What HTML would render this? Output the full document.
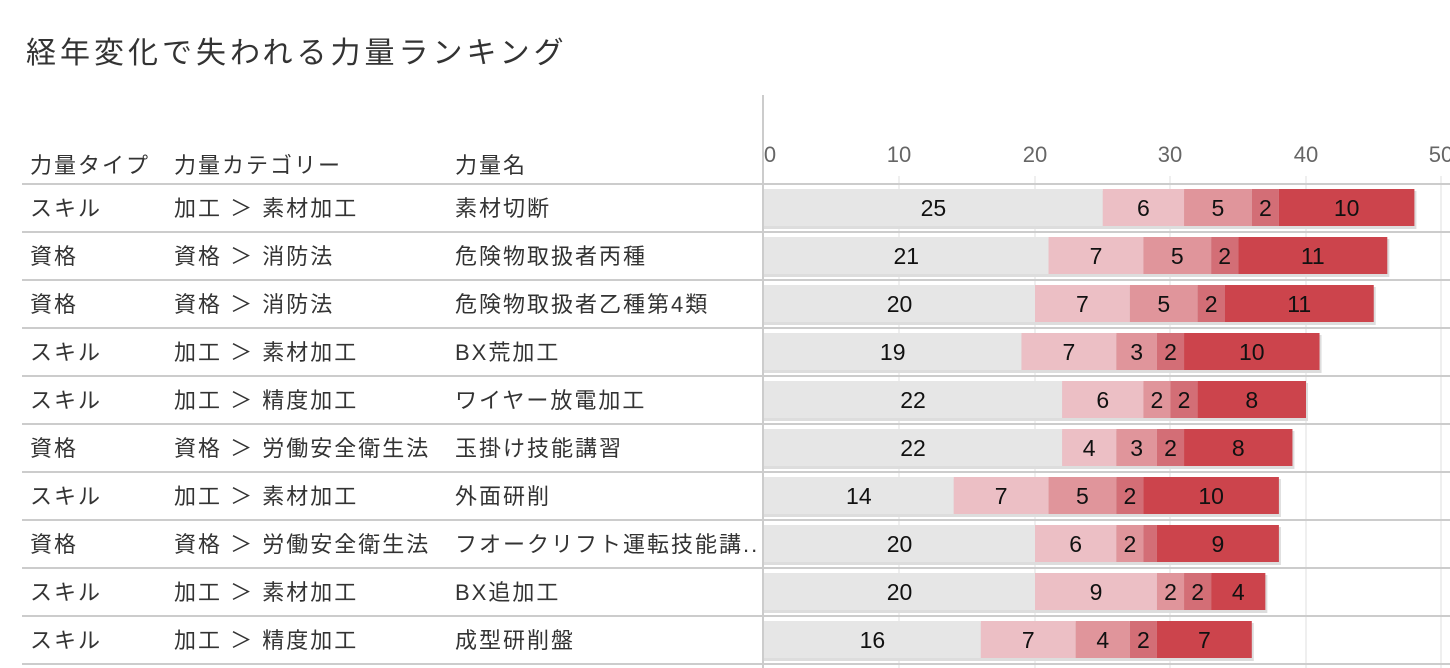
<!DOCTYPE html>
<html><head><meta charset="utf-8"><style>
body{margin:0;background:#fff;}
svg{display:block;font-family:"Liberation Sans","Noto Sans CJK JP",sans-serif;}
.l{letter-spacing:2px;}
</style></head><body>
<svg width="1450" height="668" xmlns="http://www.w3.org/2000/svg">
<text x="26" y="63" font-size="30" fill="#333" letter-spacing="4">経年変化で失われる力量ランキング</text>
<g stroke="#efefef" stroke-width="2">
<line x1="899" y1="176" x2="899" y2="668"/><line x1="1035" y1="176" x2="1035" y2="668"/>
<line x1="1170" y1="176" x2="1170" y2="668"/><line x1="1306" y1="176" x2="1306" y2="668"/>
<line x1="1441" y1="176" x2="1441" y2="668"/>
</g>
<g font-size="22" fill="#666" text-anchor="middle">
<text x="770" y="162">0</text><text x="899" y="162">10</text><text x="1035" y="162">20</text><text x="1170" y="162">30</text><text x="1306" y="162">40</text><text x="1441" y="162">50</text>
</g>
<g font-size="22" fill="#333" class="l">
<text x="30" y="173">力量タイプ</text><text x="174" y="173">力量カテゴリー</text><text x="455" y="173">力量名</text>
</g>
<g id="rows"></g>
<line x1="763" y1="95" x2="763" y2="668" stroke="#ccc" stroke-width="2"/>
</svg>
<script>
const data=[
["スキル","加工 ＞ 素材加工","素材切断",[25,6,5,2,10]],
["資格","資格 ＞ 消防法","危険物取扱者丙種",[21,7,5,2,11]],
["資格","資格 ＞ 消防法","危険物取扱者乙種第4類",[20,7,5,2,11]],
["スキル","加工 ＞ 素材加工","BX荒加工",[19,7,3,2,10]],
["スキル","加工 ＞ 精度加工","ワイヤー放電加工",[22,6,2,2,8]],
["資格","資格 ＞ 労働安全衛生法","玉掛け技能講習",[22,4,3,2,8]],
["スキル","加工 ＞ 素材加工","外面研削",[14,7,5,2,10]],
["資格","資格 ＞ 労働安全衛生法","フオークリフト運転技能講..",[20,6,2,1,9]],
["スキル","加工 ＞ 素材加工","BX追加工",[20,9,2,2,4]],
["スキル","加工 ＞ 精度加工","成型研削盤",[16,7,4,2,7]]];
const cols=["#e6e6e6","#ecbfc5","#e0959b","#d36e76","#cc444c"];
const u=13.55,x0=764;let s="";
for(let i=0;i<=data.length;i++){const y=184+48*i;s+=`<line x1="22" y1="${y}" x2="1450" y2="${y}" stroke="#ccc" stroke-width="2"/>`;}
data.forEach((d,i)=>{const t=184+48*i,ty=t+32;
s+=`<g class="l" font-size="22" fill="#333"><text x="30" y="${ty}">${d[0]}</text><text x="174" y="${ty}">${d[1]}</text><text x="455" y="${ty}">${d[2]}</text></g>`;
const tot=d[3].reduce((a,b)=>a+b,0);
s+=`<rect x="${x0}" y="${t+7}" width="${tot*u+2}" height="38" fill="#ddd"/>`;
let c=0;d[3].forEach((v,k)=>{const x=x0+c*u;s+=`<rect x="${x}" y="${t+5}" width="${v*u}" height="37" fill="${cols[k]}"/>`;
if(v>1)s+=`<text x="${x+v*u/2}" y="${ty}" font-size="23" fill="#111" text-anchor="middle">${v}</text>`;c+=v;});
});
document.getElementById("rows").innerHTML=s;
</script>
</body></html>
